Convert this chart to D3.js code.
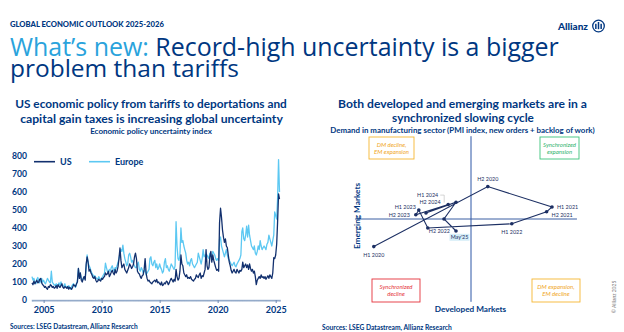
<!DOCTYPE html>
<html>
<head>
<meta charset="utf-8">
<script src="https://cdn.jsdelivr.net/npm/d3@7"></script>
<style>
body { margin: 0; background: #fff; }
svg { display: block; font-family: Lato, "Open Sans", sans-serif; }
</style>
</head>
<body>
<svg id="chart" width="624" height="332"></svg>
<script>
// ---------------- data ----------------
// Economic policy uncertainty index, monthly from Jan 2004 to May 2025
var epuStart = [2004, 0];
var usEpu = [
  95, 85, 105, 90, 100, 110, 95, 100, 115, 120, 95, 85,      // 2004
  80, 70, 75, 65, 60, 75, 70, 85, 80, 70, 75, 65,            // 2005
  70, 80, 65, 85, 75, 70, 80, 90, 70, 65, 75, 70,            // 2006
  65, 75, 60, 70, 65, 60, 70, 85, 80, 75, 90, 100,           // 2007
  175, 120, 150, 110, 100, 120, 130, 110, 200, 240, 210, 160, // 2008
  170, 150, 140, 125, 120, 130, 110, 100, 105, 115, 110, 105, // 2009
  120, 115, 125, 130, 150, 140, 145, 160, 130, 140, 155, 165, // 2010
  150, 140, 170, 150, 160, 185, 230, 289, 220, 180, 190, 200, // 2011
  170, 160, 150, 165, 180, 200, 190, 175, 185, 200, 240, 260, // 2012
  230, 160, 150, 145, 130, 120, 135, 140, 170, 230, 150, 120, // 2013
  105, 110, 100, 95, 90, 100, 105, 110, 100, 115, 95, 100,    // 2014
  90, 85, 100, 80, 85, 95, 90, 105, 100, 85, 95, 110,         // 2015
  120, 110, 100, 115, 105, 170, 130, 110, 120, 160, 250, 200, // 2016
  190, 150, 140, 130, 140, 120, 125, 120, 130, 115, 110, 105, // 2017
  115, 120, 140, 130, 125, 140, 150, 120, 135, 130, 150, 170, // 2018
  280, 190, 170, 180, 240, 270, 210, 250, 220, 200, 180, 165, // 2019
  170, 160, 430, 510, 460, 390, 350, 320, 340, 300, 290, 250, // 2020
  210, 190, 165, 150, 160, 170, 155, 150, 170, 160, 150, 165, // 2021
  160, 170, 210, 180, 190, 200, 180, 195, 170, 200, 175, 160, // 2022
  170, 150, 160, 130, 85, 110, 120, 130, 120, 140, 125, 130,  // 2023
  120, 130, 115, 125, 135, 120, 140, 130, 120, 150, 235, 230, // 2024
  250, 310, 430, 590, 560                                     // 2025
];
var europeEpu = [
  130, 110, 120, 100, 90, 115, 125, 105, 95, 110, 120, 100,   // 2004
  110, 95, 90, 105, 120, 110, 100, 95, 160, 100, 90, 85,      // 2005
  80, 90, 75, 85, 95, 80, 100, 85, 75, 80, 90, 70,            // 2006
  75, 65, 80, 70, 60, 75, 85, 90, 80, 70, 85, 110,            // 2007
  175, 130, 150, 120, 110, 115, 130, 120, 180, 250, 210, 190, // 2008
  180, 160, 150, 140, 130, 135, 125, 120, 115, 130, 120, 110, // 2009
  120, 130, 140, 150, 205, 180, 160, 150, 170, 160, 180, 190, // 2010
  170, 160, 180, 175, 190, 210, 230, 260, 280, 270, 305, 260, // 2011
  230, 210, 190, 200, 250, 260, 240, 210, 220, 200, 190, 180, // 2012
  180, 200, 210, 170, 160, 180, 170, 150, 160, 170, 140, 150, // 2013
  160, 170, 230, 240, 200, 190, 210, 220, 180, 200, 170, 180, // 2014
  200, 180, 170, 150, 160, 210, 230, 180, 190, 170, 160, 180, // 2015
  200, 190, 180, 170, 190, 435, 300, 230, 220, 250, 400, 320, // 2016
  330, 300, 280, 260, 220, 200, 210, 190, 220, 230, 200, 190, // 2017
  180, 190, 200, 210, 260, 240, 220, 200, 230, 280, 240, 250, // 2018
  230, 250, 240, 230, 260, 250, 240, 270, 260, 250, 230, 220, // 2019
  230, 220, 340, 350, 300, 280, 260, 240, 260, 280, 250, 230, // 2020
  220, 210, 200, 190, 200, 210, 190, 185, 200, 210, 220, 230, // 2021
  250, 380, 400, 340, 330, 360, 410, 350, 416, 360, 330, 300, // 2022
  290, 280, 300, 260, 250, 270, 300, 280, 330, 300, 280, 290, // 2023
  300, 290, 280, 310, 320, 360, 340, 320, 300, 330, 360, 490, // 2024
  470, 450, 560, 780, 600                                     // 2025
];
var epuTicks = [0, 100, 200, 300, 400, 500, 600, 700, 800];
var yearTicks = [2005, 2010, 2015, 2020, 2025];

// PMI (new orders + backlog of work): developed vs emerging markets
var periods = ["H1 2020", "H2 2020", "H1 2021", "H2 2021", "H1 2022", "H2 2022",
               "H1 2023", "H2 2023", "H1 2024", "H2 2024", "", "", "May'25"];
var dmPmi = [41.9, 51.4, 56.75, 56.3, 53.4, 46.4, 45.65, 45.4, 48.1, 46.25, 48.75, 47.75, 48.75];
var emPmi = [47.7, 52.7, 51.0, 50.6, 49.6, 49.25, 50.75, 50.35, 51.2, 50.5, 51.4, 50.0, 49.0];

// ---------------- drawing ----------------
var svg = d3.select("#chart");
var navy = "#003781", sky = "#2aa3dc";

function fit(sel, w) {
  var l = sel.node().getComputedTextLength();
  sel.attr("font-size", parseFloat(sel.attr("font-size")) * w / l);
  return sel;
}

// header
fit(svg.append("text").attr("x", 10).attr("y", 27.3).attr("font-size", 7)
  .attr("font-weight", 900).attr("fill", navy).text("GLOBAL ECONOMIC OUTLOOK 2025-2026"), 154);

var t1 = svg.append("text").attr("x", 10).attr("y", 55.7).attr("font-size", 22)
  .attr("font-family", "'Open Sans', sans-serif").attr("fill", navy);
t1.append("tspan").attr("fill", sky).text("What\u2019s new: ");
t1.append("tspan").text("Record-high uncertainty is a bigger");
fit(t1, 549);
fit(svg.append("text").attr("x", 10).attr("y", 76.5).attr("font-size", 22)
  .attr("font-family", "'Open Sans', sans-serif").attr("fill", navy)
  .text("problem than tariffs"), 229);

// Allianz logo
svg.append("text").attr("x", 588).attr("y", 29.5).attr("text-anchor", "end")
  .attr("font-size", 10).attr("font-weight", 900).attr("fill", navy).text("Allianz");
var logo = svg.append("g").attr("transform", "translate(598.5,26)");
logo.append("circle").attr("r", 5.8).attr("fill", "none").attr("stroke", navy).attr("stroke-width", 1.3);
logo.append("rect").attr("x", -3.4).attr("y", -2.2).attr("width", 1.5).attr("height", 5.2).attr("fill", navy);
logo.append("rect").attr("x", -0.75).attr("y", -4).attr("width", 1.5).attr("height", 7.2).attr("fill", navy);
logo.append("rect").attr("x", 1.9).attr("y", -2.2).attr("width", 1.5).attr("height", 5.2).attr("fill", navy);

// ---- left chart ----
fit(svg.append("text").attr("x", 151).attr("y", 108.3).attr("text-anchor", "middle")
  .attr("font-size", 11).attr("font-weight", 700).attr("fill", navy)
  .text("US economic policy from tariffs to deportations and"), 272);
fit(svg.append("text").attr("x", 151.5).attr("y", 122.7).attr("text-anchor", "middle")
  .attr("font-size", 11).attr("font-weight", 700).attr("fill", navy)
  .text("capital gain taxes is increasing global uncertainty"), 263);
fit(svg.append("text").attr("x", 151).attr("y", 134.2).attr("text-anchor", "middle")
  .attr("font-size", 7).attr("font-weight", 700).attr("fill", navy)
  .text("Economic policy uncertainty index"), 122);

function monthDate(i) { return new Date(epuStart[0], epuStart[1] + i, 1); }
var x = d3.scaleTime()
  .domain([new Date(2004, 0, 1), new Date(2025, 4, 1)])
  .range([32, 279.5]);
var y = d3.scaleLinear().domain([0, 800]).range([300, 156]);

var gy = svg.append("g").attr("transform", "translate(27,0)")
  .call(d3.axisLeft(y).tickValues(epuTicks).tickSize(0).tickPadding(0));
gy.select(".domain").remove();
gy.selectAll("text").attr("font-family", "Lato, sans-serif").attr("font-size", 8.6)
  .attr("font-weight", 700).attr("fill", navy);

var gxm = svg.append("g").attr("transform", "translate(0,300)")
  .call(d3.axisBottom(x).ticks(d3.timeMonth.every(1)).tickSize(1.6).tickFormat(""));
gxm.select(".domain").attr("stroke", "#a9bcd6").attr("stroke-width", 1.6);
gxm.selectAll(".tick line").attr("stroke", "#7f98bd").attr("stroke-width", 0.5);
var gx = svg.append("g").attr("transform", "translate(0,300)")
  .call(d3.axisBottom(x).tickValues(yearTicks.map(function(d) { return new Date(d, 0, 1); }))
    .tickSize(3).tickPadding(4).tickFormat(d3.timeFormat("%Y")));
gx.select(".domain").remove();
gx.selectAll(".tick line").attr("stroke", "#6f89b3");
gx.selectAll("text").attr("font-family", "Lato, sans-serif").attr("font-size", 9)
  .attr("font-weight", 700).attr("fill", navy);

var line = d3.line()
  .x(function(d, i) { return x(monthDate(i)); })
  .y(function(d) { return y(d); });
svg.append("path").datum(europeEpu).attr("d", line).attr("fill", "none")
  .attr("stroke", "#5cc8f2").attr("stroke-width", 1.3).attr("stroke-linejoin", "round");
svg.append("path").datum(usEpu).attr("d", line).attr("fill", "none")
  .attr("stroke", "#12306e").attr("stroke-width", 1.3).attr("stroke-linejoin", "round");

// legend
var legend = [{name: "US", color: "#12306e", x: 34}, {name: "Europe", color: "#5cc8f2", x: 89}];
legend.forEach(function(l) {
  svg.append("line").attr("x1", l.x).attr("x2", l.x + 21).attr("y1", 161.7).attr("y2", 161.7)
    .attr("stroke", l.color).attr("stroke-width", 1.6);
  svg.append("text").attr("x", l.x + 26).attr("y", 165).attr("font-size", 9)
    .attr("font-weight", 700).attr("fill", navy).text(l.name);
});

fit(svg.append("text").attr("x", 10).attr("y", 329.3).attr("font-size", 6.5).attr("font-weight", 700)
  .attr("fill", navy).text("Sources: LSEG Datastream, Allianz Research"), 128);

// ---- right chart ----
fit(svg.append("text").attr("x", 462.5).attr("y", 108.3).attr("text-anchor", "middle")
  .attr("font-size", 11).attr("font-weight", 700).attr("fill", navy)
  .text("Both developed and emerging markets are in a"), 249);
fit(svg.append("text").attr("x", 463).attr("y", 122.4).attr("text-anchor", "middle")
  .attr("font-size", 11).attr("font-weight", 700).attr("fill", navy)
  .text("synchronized slowing cycle"), 142);
fit(svg.append("text").attr("x", 462.5).attr("y", 133.4).attr("text-anchor", "middle")
  .attr("font-size", 7).attr("font-weight", 700).attr("fill", navy)
  .text("Demand in manufacturing sector (PMI index, new orders + backlog of work)"), 265);

var px = d3.scaleLinear().domain([40, 59]).range([351, 579]);
var py = d3.scaleLinear().domain([43, 57]).range([303, 135]);

// quadrant boxes
var quads = [
  {l: ["DM decline,", "EM expansion"], c: "#f5b731", t: "#f0a51c", x0: 369, x1: 414, y0: 137, y1: 159},
  {l: ["Synchronized", "expansion"], c: "#3cc47c", t: "#2fb36c", x0: 540, x1: 579, y0: 137, y1: 159},
  {l: ["Synchronized", "decline"], c: "#e5323b", t: "#e5323b", x0: 372, x1: 420, y0: 279, y1: 302},
  {l: ["DM expansion,", "EM decline"], c: "#f5b731", t: "#f0a51c", x0: 532, x1: 580, y0: 279, y1: 302}
];
quads.forEach(function(q) {
  svg.append("rect").attr("x", q.x0).attr("y", q.y0).attr("width", q.x1 - q.x0)
    .attr("height", q.y1 - q.y0).attr("fill", "none").attr("stroke", q.c).attr("stroke-width", 0.9);
  q.l.forEach(function(s, i) {
    svg.append("text").attr("x", (q.x0 + q.x1) / 2).attr("y", q.y0 + 9.6 + i * 7.6)
      .attr("text-anchor", "middle").attr("font-size", 6).attr("font-style", "italic")
      .attr("fill", q.t).text(s);
  });
});

// 50-lines
svg.append("line").attr("x1", px(50)).attr("x2", px(50)).attr("y1", py(56.9)).attr("y2", py(43.1))
  .attr("stroke", "#2c56a6").attr("stroke-width", 1);
svg.append("line").attr("x1", px(40.33)).attr("x2", px(58.83)).attr("y1", py(50)).attr("y2", py(50))
  .attr("stroke", "#3b5fa3").attr("stroke-width", 1);

svg.append("text").attr("transform", "translate(360,216) rotate(-90)").attr("text-anchor", "middle")
  .attr("font-size", 8.2).attr("font-weight", 700).attr("fill", navy).text("Emerging Markets");
svg.append("text").attr("x", 470.5).attr("y", 312).attr("text-anchor", "middle")
  .attr("font-size", 8.2).attr("font-weight", 700).attr("fill", navy).text("Developed Markets");

var pts = periods.map(function(p, i) { return {p: p, dm: dmPmi[i], em: emPmi[i]}; });
var pmiLine = d3.line().x(function(d) { return px(d.dm); }).y(function(d) { return py(d.em); });
svg.append("path").datum(pts).attr("d", pmiLine).attr("fill", "none")
  .attr("stroke", "#1c2f63").attr("stroke-width", 1.1);
svg.selectAll(".pt").data(pts).enter().append("circle").attr("class", "pt")
  .attr("cx", function(d) { return px(d.dm); }).attr("cy", function(d) { return py(d.em); })
  .attr("r", 1.8).attr("fill", "#1c2f63");

// label placement (dx, dy, anchor)
var labelPos = {
  "H1 2020": [0, 10, "middle"], "H2 2020": [0, -6, "middle"],
  "H1 2021": [5, 2, "start"], "H2 2021": [5, 5, "start"],
  "H1 2022": [0, 10.5, "middle"], "H2 2022": [1, 5, "start"],
  "H1 2023": [-3, -1, "end"], "H2 2023": [-6, 2, "end"],
  "H1 2024": [-10, -8, "end"], "H2 2024": [4, -9, "middle"],
  "May'25": [3.5, 8, "middle"]
};
pts.forEach(function(d) {
  if (!d.p) return;
  var o = labelPos[d.p];
  var lx = px(d.dm) + o[0], ly = py(d.em) + o[1];
  if (d.p === "May'25") {
    svg.append("rect").attr("x", lx - 10).attr("y", ly - 5.2).attr("width", 20).attr("height", 7)
      .attr("fill", "#d6eef8");
  }
  svg.append("text").attr("x", lx).attr("y", ly).attr("text-anchor", o[2])
    .attr("font-size", 5.4).attr("fill", "#1c2f63").text(d.p);
});
// leader from H1 2024 label
var h1 = pts[8];
svg.append("path")
  .attr("d", "M" + (px(h1.dm) - 8) + "," + (py(h1.em) - 9.5) + "H" + (px(h1.dm) - 4) + "V" + (py(h1.em) - 2))
  .attr("fill", "none").attr("stroke", "#b8b8b8").attr("stroke-width", 0.6);

fit(svg.append("text").attr("x", 322).attr("y", 329.5).attr("font-size", 6.5).attr("font-weight", 700)
  .attr("fill", navy).text("Sources: LSEG Datastream, Allianz Research"), 130);

svg.append("text").attr("transform", "translate(616,297) rotate(-90)").attr("text-anchor", "middle")
  .attr("font-size", 5).attr("fill", "#777").text("\u00a9 Allianz 2025");
</script>
</body>
</html>
